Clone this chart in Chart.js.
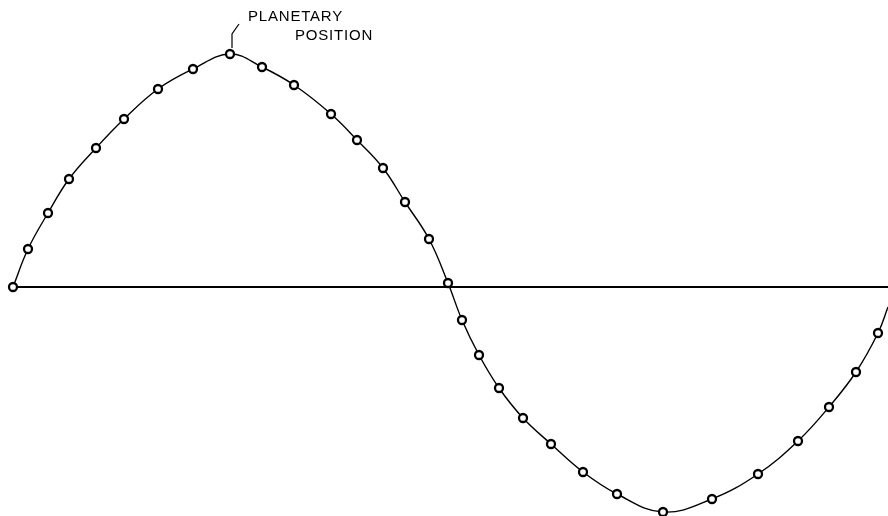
<!DOCTYPE html>
<html>
<head>
<meta charset="utf-8">
<script src="https://cdn.jsdelivr.net/npm/chart.js@4"></script>
<style>
  html, body { margin: 0; padding: 0; background: #fff; }
  #chartDiv { width: 888px; height: 516px; }
</style>
</head>
<body>
<div id="chartDiv"><canvas id="myChart"></canvas></div>
<script>
// planet positions along the orbit (horizontal position, displacement above/below the line)
let orbitX = [13, 28, 48, 69, 96, 124, 158, 193, 230, 262, 294, 331, 357, 383, 405, 429, 448,
              462, 479, 499, 523, 551, 583, 617, 663, 712, 758, 798, 829, 856, 878, 888];
let orbitY = [0, 38, 74, 108, 139, 168, 198, 218, 233, 220, 202, 173, 147, 119, 85, 48, 4,
              -33, -68, -101, -131, -157, -185, -207, -225, -212, -187, -154, -120, -85, -46, -20];
let markerShown = orbitX.map((x, i) => i < orbitX.length - 1);

let baseX = [13, 888];
let baseY = [0, 0];

let labelLines = ["PLANETARY", "POSITION"];

const points = orbitX.map((x, i) => ({ x: x, y: orbitY[i] }));
const basePoints = baseX.map((x, i) => ({ x: x, y: baseY[i] }));

// draws the callout on the highest planet position
const calloutPlugin = {
    id: 'callout',
    afterDatasetsDraw(chart) {
        const meta = chart.getDatasetMeta(0);
        let top = 0;
        for (let i = 1; i < orbitY.length; i++) {
            if (orbitY[i] > orbitY[top]) top = i;
        }
        const el = meta.data[top];
        const px = el.x, py = el.y;
        const ctx = chart.ctx;
        ctx.save();
        ctx.strokeStyle = '#000';
        ctx.lineWidth = 1.2;
        ctx.beginPath();
        ctx.moveTo(px + 2, py - 6);
        ctx.lineTo(px + 2, py - 20);
        ctx.lineTo(px + 9, py - 30);
        ctx.stroke();
        ctx.fillStyle = '#000';
        ctx.font = '15px "Liberation Sans", Arial, sans-serif';
        ctx.textBaseline = 'alphabetic';
        ctx.letterSpacing = '0.8px';
        ctx.fillText(labelLines[0], px + 18, py - 33);
        ctx.fillText(labelLines[1], px + 65, py - 14);
        ctx.restore();
    }
};

function drawChart() {
    const ctx = document.getElementById('myChart').getContext('2d');
    const myChart = new Chart(ctx, {
        type: 'scatter',
        data: {
            datasets: [{
                label: 'orbit',
                data: points,
                showLine: true,
                tension: 0.4,
                borderColor: '#000',
                borderWidth: 1.4,
                pointRadius: markerShown.map(s => s ? 4 : 0),
                pointBorderWidth: 2.3,
                pointBackgroundColor: '#fff',
                pointBorderColor: '#000',
                clip: false
            }, {
                label: 'base',
                data: basePoints,
                showLine: true,
                borderColor: '#000',
                borderWidth: 1.8,
                pointRadius: 0,
                clip: false
            }]
        },
        options: {
            responsive: true,
            maintainAspectRatio: false,
            animation: false,
            layout: { padding: 0, autoPadding: false },
            plugins: {
                legend: { display: false },
                tooltip: { enabled: false }
            },
            scales: {
                x: { type: 'linear', min: 0, max: 888, display: false },
                y: { type: 'linear', min: -229, max: 287, display: false }
            }
        },
        plugins: [calloutPlugin]
    });
}

drawChart();
</script>
</body>
</html>
